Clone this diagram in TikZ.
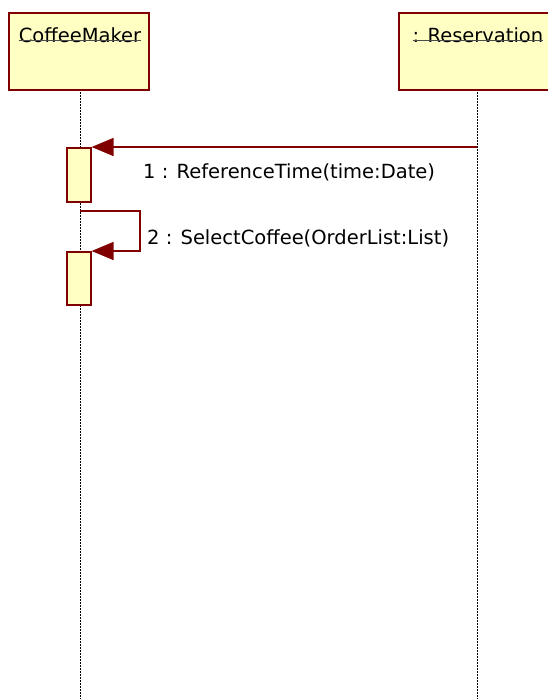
\documentclass[tikz,border=0pt]{standalone}
\usepackage{fontspec}
\setmainfont{DejaVu Sans}
\usetikzlibrary{arrows.meta}
\definecolor{umlred}{HTML}{800000}
\definecolor{umlfill}{HTML}{FFFFC4}

\begin{document}
\begin{tikzpicture}[x=1pt, y=-1pt,
  font=\fontsize{19.5}{23}\selectfont,
  objbox/.style={draw=umlred, fill=umlfill, line width=1.6pt, anchor=north west, minimum height=77pt},
  actbox/.style={draw=umlred, fill=umlfill, line width=1.6pt, anchor=north west, minimum width=24pt},
  lifeline/.style={line width=1pt, dash pattern=on 1.5pt off 1.5pt},
  msg/.style={draw=umlred, line width=1.6pt, -{Triangle[length=22pt, width=18pt]}},
  lbl/.style={anchor=base west, inner sep=0pt}]

  \useasboundingbox (0,0) rectangle (548,699);
  \clip (0,0) rectangle (548,699);

  % lifelines
  \draw[lifeline] (80,89)--(80,699);
  \draw[lifeline] (477,89)--(477,699);

  % objects
  \node[objbox, minimum width=140pt] (maker) at (8,12) {};
  \node[objbox, minimum width=158pt] (resv) at (398,12) {};
  \node[lbl, anchor=base] (makername) at (80,42) {CoffeeMaker};
  \node[lbl, anchor=base] (resvname) at (478,42) {: Reservation};
  \draw[line width=1pt, black!70] ([yshift=2pt]makername.base west)--([yshift=2pt]makername.base east);
  \draw[line width=1pt, black!70] ([yshift=2pt]resvname.base west)--([yshift=2pt]resvname.base east);

  % activations
  \node[actbox, minimum height=54pt] (act1) at (66,147) {};
  \node[actbox, minimum height=53pt] (act2) at (66,251) {};

  % messages
  \coordinate (from1) at (477,147);
  \coordinate (from2) at (80,211);
  \draw[msg] (from1) -- (act1.north east);
  \node[lbl] (msg1) at (143,178) {1 : ReferenceTime(time:Date)};

  \draw[msg] (from2) -- (140,211) -- (140,251) -- (act2.north east);
  \node[lbl] (msg2) at (147,244) {2 : SelectCoffee(OrderList:List)};
\end{tikzpicture}
\end{document}
